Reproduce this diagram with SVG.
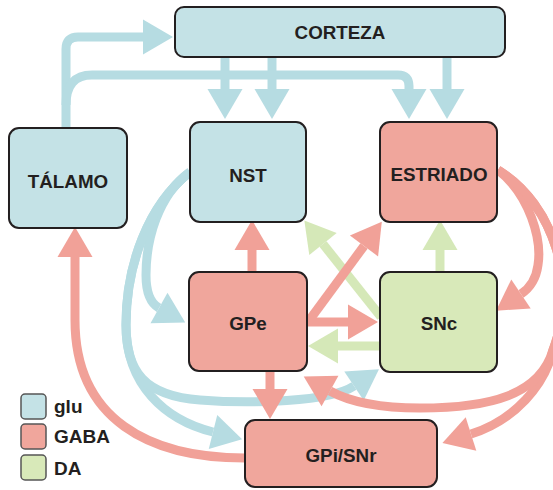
<svg xmlns="http://www.w3.org/2000/svg" width="553" height="490" viewBox="0 0 553 490">
<style>
.b{fill:none;stroke:#b6dce2;stroke-width:9}
.r{fill:none;stroke:#f1a198;stroke-width:9}
.g{fill:none;stroke:#d5e8b8;stroke-width:9}
.nb{fill:#c4e2e6;stroke:#231f20;stroke-width:2}
.nr{fill:#f0a69c;stroke:#231f20;stroke-width:2}
.ng{fill:#d8e9b9;stroke:#231f20;stroke-width:2}
.t{font-family:"Liberation Sans",Arial,sans-serif;font-weight:bold;font-size:18.8px;fill:#231f20;text-anchor:middle}
.lt{font-family:"Liberation Sans",Arial,sans-serif;font-weight:bold;font-size:19px;fill:#231f20}
.ls{stroke:#555;stroke-width:1.5}
</style>
<defs>
<marker id="ab" markerUnits="userSpaceOnUse" markerWidth="32" markerHeight="36" refX="0" refY="17.5" orient="auto" overflow="visible"><path d="M0,0 L30,17.5 L0,35 Z" fill="#b6dce2"/></marker>
<marker id="ar" markerUnits="userSpaceOnUse" markerWidth="32" markerHeight="36" refX="0" refY="17.5" orient="auto" overflow="visible"><path d="M0,0 L30,17.5 L0,35 Z" fill="#f1a198"/></marker>
<marker id="ag" markerUnits="userSpaceOnUse" markerWidth="32" markerHeight="36" refX="0" refY="17.5" orient="auto" overflow="visible"><path d="M0,0 L30,17.5 L0,35 Z" fill="#d5e8b8"/></marker>
</defs>
<g id="connectors">
<g id="glu">
<path class="b" d="M66,130 V49 Q66,37 78,37 H143" marker-end="url(#ab)"/>
<path class="b" d="M66,105 Q66,75 92,75 H398 Q409,75 409,86 V89" marker-end="url(#ab)"/>
<path class="b" d="M225,57 V89" marker-end="url(#ab)"/>
<path class="b" d="M272,57 V89" marker-end="url(#ab)"/>
<path class="b" d="M447,57 V89" marker-end="url(#ab)"/>
<path class="b" d="M190,172 C158,195 146,240 146,275 C146,292 150,303 159,308" marker-end="url(#ab)"/>
<path class="b" d="M190,172 C148,205 126,265 126,325 C126,385 165,420 213,432" marker-end="url(#ab)"/>
<path class="b" d="M190,172 C148,205 126,265 126,325 C126,372 145,396 200,400 C250,404 330,402 354,386" marker-end="url(#ab)"/>
</g>
<g id="da">
<path class="g" d="M440,272 V250" marker-end="url(#ag)"/>
<path class="g" d="M380,346 H338" marker-end="url(#ag)"/>
<path class="g" d="M381,317 L323,244" marker-end="url(#ag)"/>
</g>
<g id="gaba">
<path class="r" d="M252,272 V250" marker-end="url(#ar)"/>
<path class="r" d="M270,371 V389" marker-end="url(#ar)"/>
<path class="r" d="M307,322 H348" marker-end="url(#ar)"/>
<path class="r" d="M308,322 L364,246" marker-end="url(#ar)"/>
<path class="r" d="M245,458 C150,458 75,420 75,320 V257" marker-end="url(#ar)"/>
<path class="r" d="M498,170 C530,195 542,240 538,265 C536,280 530,288 521,294" marker-end="url(#ar)"/>
<path class="r" d="M498,170 C555,205 578,285 553,350 C545,385 515,420 471,434" marker-end="url(#ar)"/>
<path class="r" d="M498,170 C555,205 578,285 553,350 C540,395 490,408 420,408 C380,408 350,402 330,391" marker-end="url(#ar)"/>
</g>
</g>
<g id="corteza"><rect class="nb" x="175" y="7" width="330" height="50" rx="9"/><text class="t" x="340" y="39">CORTEZA</text></g>
<g id="talamo"><rect class="nb" x="9" y="128" width="118" height="100" rx="10"/><text class="t" x="68" y="188">TÁLAMO</text></g>
<g id="nst"><rect class="nb" x="190" y="122" width="116" height="100" rx="10"/><text class="t" x="248" y="182">NST</text></g>
<g id="estriado"><rect class="nr" x="380" y="122" width="117" height="100" rx="10"/><text class="t" x="439" y="181">ESTRIADO</text></g>
<g id="gpe"><rect class="nr" x="189" y="272" width="118" height="99" rx="10"/><text class="t" x="248" y="330">GPe</text></g>
<g id="snc"><rect class="ng" x="380" y="272" width="117" height="100" rx="10"/><text class="t" x="439" y="330">SNc</text></g>
<g id="gpi"><rect class="nr" x="245" y="420" width="192" height="67" rx="10"/><text class="t" x="341" y="462">GPi/SNr</text></g>
<g id="legend">
<rect class="ls" x="21" y="394" width="25" height="25" rx="4" fill="#c4e2e6"/>
<rect class="ls" x="21" y="424" width="25" height="25" rx="4" fill="#f0a69c"/>
<rect class="ls" x="21" y="455" width="25" height="25" rx="4" fill="#d8e9b9"/>
<text class="lt" x="54" y="413">glu</text>
<text class="lt" x="54" y="443">GABA</text>
<text class="lt" x="54" y="475">DA</text>
</g>
</svg>
